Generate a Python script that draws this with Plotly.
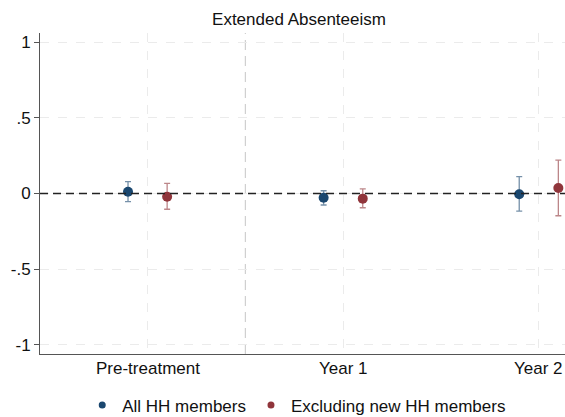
import plotly.graph_objects as go

categories = ["Pre-treatment", "Year 1", "Year 2"]
cat_pos = [1, 2, 3]

all_est = [0.012, -0.028, -0.005]
all_hi = [0.078, 0.018, 0.111]
all_lo = [-0.054, -0.076, -0.117]

excl_est = [-0.021, -0.034, 0.036]
excl_hi = [0.067, 0.030, 0.221]
excl_lo = [-0.104, -0.094, -0.147]

yticks = [-1, -0.5, 0, 0.5, 1]
yticklabels = ["-1", "-.5", "0", ".5", "1"]

series_names = ["All HH members", "Excluding new HH members"]

offset = 0.1
BLUE = "#1a476f"
RED = "#90353b"
FONT = "Liberation Sans, Arial, sans-serif"
FS = 17

fig = go.Figure()

def add_series(est, hi, lo, shift, color, ecolor, name):
    fig.add_trace(go.Scatter(
        x=[p + shift for p in cat_pos], y=est, mode="markers", name=name,
        marker=dict(color=color, size=10), cliponaxis=False, showlegend=False,
        error_y=dict(type="data", symmetric=False,
                     array=[h - e for h, e in zip(hi, est)],
                     arrayminus=[e - l for e, l in zip(est, lo)],
                     color=ecolor, thickness=1.3, width=3),
    ))
    # legend entry with a smaller dot, as in the reference
    fig.add_trace(go.Scatter(x=[None], y=[None], mode="markers", name=name,
                             marker=dict(color=color, size=7)))

add_series(all_est, all_hi, all_lo, -offset, BLUE, "rgba(26,71,111,0.6)", series_names[0])
add_series(excl_est, excl_hi, excl_lo, offset, RED, "rgba(144,53,59,0.6)", series_names[1])

fig.add_shape(type="line", xref="x", yref="paper", x0=1.5, x1=1.5, y0=0, y1=1,
              line=dict(color="#d0d0d0", width=1.2, dash="10px,6px"), layer="below")
fig.add_shape(type="line", xref="paper", yref="y", x0=0, x1=1, y0=0, y1=0,
              line=dict(color="#222222", width=1.6, dash="8px,5px"))

# x tick labels: first two on ticks, last one kept inside the figure edge
for i, (pos, lab) in enumerate(zip(cat_pos, categories)):
    last = i == len(categories) - 1
    fig.add_annotation(
        x=1 if last else pos, xref="paper" if last else "x",
        xanchor="right" if last else "center",
        y=-15/321, yref="paper", yanchor="middle",
        text=lab, showarrow=False, font=dict(size=FS, family=FONT, color="#111111"),
    )

fig.update_layout(
    width=565, height=417,
    margin=dict(l=40, r=0, t=33, b=63, autoexpand=False),
    paper_bgcolor="white", plot_bgcolor="white",
    font=dict(family=FONT, size=FS, color="#111111"),
    title=dict(text="Extended Absenteeism", x=299/565, xanchor="center",
               y=1 - 19/417, yanchor="middle", font=dict(size=FS, family=FONT, color="#111111")),
    showlegend=True,
    legend=dict(orientation="h", x=0.489, xanchor="center", y=-0.16, yanchor="middle",
                font=dict(size=FS, family=FONT), itemwidth=30,
                bgcolor="rgba(0,0,0,0)"),
    xaxis=dict(range=[0.45, 3.134], tickvals=cat_pos, showticklabels=False,
               showgrid=True, gridcolor="#ebebeb", griddash="dash", gridwidth=1,
               showline=True, linecolor="#555555", linewidth=1, ticks="",
               zeroline=False, automargin=False),
    yaxis=dict(range=[-1.06, 1.06], tickvals=yticks, ticktext=yticklabels,
               showgrid=True, gridcolor="#ebebeb", griddash="dash", gridwidth=1,
               showline=True, linecolor="#555555", linewidth=1,
               ticks="outside", ticklen=5, tickcolor="#555555",
               zeroline=False, tickfont=dict(size=FS), automargin=False),
)

fig.write_html("out.html", config={"displayModeBar": False},
               post_script="document.body.style.margin='0';document.body.style.padding='0';")
